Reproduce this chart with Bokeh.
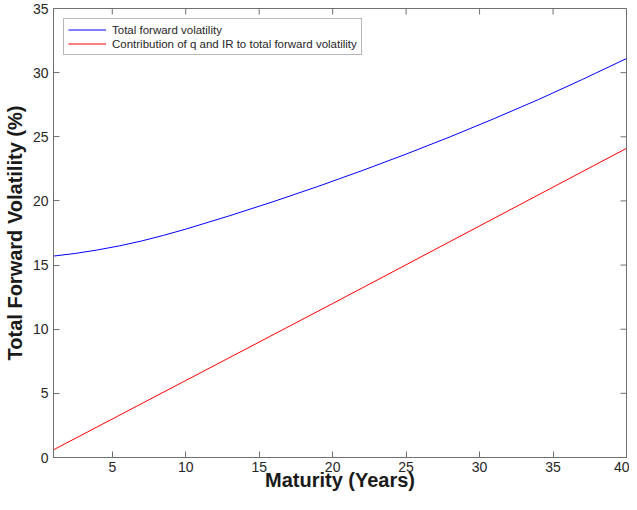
from bokeh.plotting import figure
from bokeh.models import FixedTicker, LinearAxis, Range1d, Legend, LegendItem
from bokeh.embed import file_html
from bokeh.resources import INLINE

# ---- data ----
maturity_total = [1, 2.5, 4, 5.5, 7, 8.5, 10, 13, 16, 19, 22, 25, 28, 31, 34, 37, 40]
total_vol = [15.7, 15.91, 16.18, 16.5, 16.88, 17.32, 17.8, 18.85, 19.96, 21.13,
             22.36, 23.65, 25.0, 26.42, 27.9, 29.47, 31.1]
maturity_contrib = [1, 10, 20, 30, 40]
contrib_vol = [0.6, 6.0, 12.0, 18.05, 24.1]
x_ticks = [5, 10, 15, 20, 25, 30, 35, 40]
y_ticks = [0, 5, 10, 15, 20, 25, 30, 35]
series_labels = ["Total forward volatility",
                 "Contribution of q and IR to total forward volatility"]
x_label = "Maturity (Years)"
y_label = "Total Forward Volatility (%)"

X_MIN, X_MAX = 1, 40
Y_MIN, Y_MAX = 0, 35

AX = "#707070"
TXT = "#262626"
FONT = "Liberation Sans"
W, H = 629, 494
B_LEFT, B_RIGHT, B_TOP, B_BOTTOM = 50, 3, 8, 37
FRAME_W, FRAME_H = W - B_LEFT - B_RIGHT, H - B_TOP - B_BOTTOM
TICK = 6

p = figure(width=W, height=H, x_range=Range1d(X_MIN, X_MAX), y_range=Range1d(Y_MIN, Y_MAX),
           output_backend="svg", toolbar_location=None,
           min_border_left=B_LEFT, min_border_right=B_RIGHT,
           min_border_top=B_TOP, min_border_bottom=B_BOTTOM,
           x_axis_type=None, y_axis_type=None)
p.outline_line_color = AX
p.outline_line_width = 1
p.background_fill_color = "white"
p.border_fill_color = "white"

def make_axis(ticks, axis_label, label_standoff, standoff):
    ax = LinearAxis(ticker=FixedTicker(ticks=ticks))
    ax.axis_line_color = AX
    ax.axis_line_width = 1
    ax.major_tick_line_color = AX
    ax.major_tick_in = TICK
    ax.major_tick_out = 0
    ax.minor_tick_in = 0
    ax.minor_tick_out = 0
    ax.minor_tick_line_color = None
    ax.major_label_text_font = FONT
    ax.major_label_text_font_size = "14px"
    ax.major_label_text_color = TXT
    ax.major_label_standoff = label_standoff
    ax.axis_label = axis_label
    ax.axis_label_text_font = FONT
    ax.axis_label_text_font_style = "bold"
    ax.axis_label_text_font_size = "20px"
    ax.axis_label_text_color = "#1a1a1a"
    ax.axis_label_standoff = standoff
    return ax

p.add_layout(make_axis(x_ticks, x_label, 4, -6), "below")
p.add_layout(make_axis(y_ticks, y_label, 5, 4), "left")

# inward ticks on the top and right edges of the box (MATLAB style)
dy = TICK * (Y_MAX - Y_MIN) / FRAME_H
dx = TICK * (X_MAX - X_MIN) / FRAME_W
p.segment(x0=x_ticks, y0=[Y_MAX] * len(x_ticks), x1=x_ticks, y1=[Y_MAX - dy] * len(x_ticks),
          line_color=AX, line_width=1)
p.segment(x0=[X_MAX] * len(y_ticks), y0=y_ticks, x1=[X_MAX - dx] * len(y_ticks), y1=y_ticks,
          line_color=AX, line_width=1)

r1 = p.line(maturity_total, total_vol, line_color="#0000ff", line_width=1)
r2 = p.line(maturity_contrib, contrib_vol, line_color="#ff0000", line_width=1)

legend = Legend(items=[LegendItem(label=series_labels[0], renderers=[r1]),
                       LegendItem(label=series_labels[1], renderers=[r2])],
                location="top_left", margin=10, padding=4, spacing=1,
                label_height=13, glyph_height=13, glyph_width=38, label_standoff=6,
                label_text_font=FONT, label_text_font_size="11.5px", label_text_color=TXT,
                border_line_color=AX, border_line_width=1, background_fill_color="white",
                background_fill_alpha=1)
p.add_layout(legend)

open("out.html", "w").write(file_html(p, INLINE))
